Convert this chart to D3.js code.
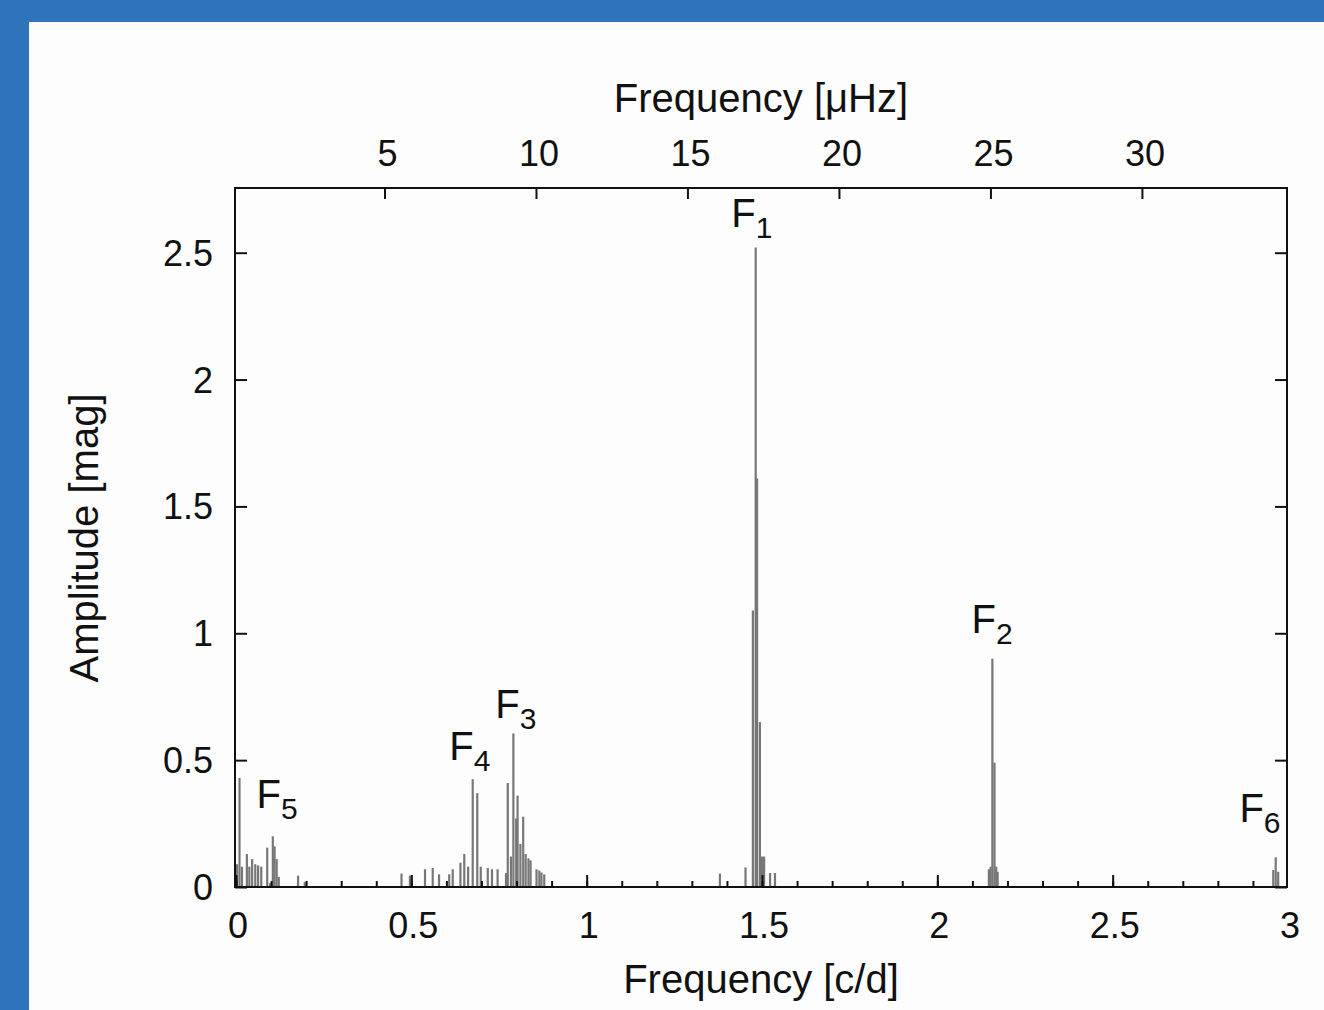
<!DOCTYPE html>
<html>
<head>
<meta charset="utf-8">
<script src="https://cdn.jsdelivr.net/npm/d3@7"></script>
<style>
  body { margin: 0; background: #2f73ba; }
  svg { display: block; font-family: "Liberation Sans", Arial, Helvetica, sans-serif; }
</style>
</head>
<body>
<svg width="1324" height="1010"></svg>
<script>
// spectrum lines: frequency [c/d] and amplitude [mag]
const freqs = [
  0.003, 0.010, 0.017, 0.031, 0.038, 0.046, 0.055, 0.063, 0.072, 0.089, 0.097, 0.105, 0.110, 0.116, 0.122, 0.177, 0.196,
  0.472, 0.496, 0.539, 0.561, 0.579, 0.608, 0.618, 0.640, 0.651, 0.662, 0.675, 0.688, 0.698, 0.718, 0.730, 0.746,
  0.770, 0.775, 0.784, 0.791, 0.799, 0.803, 0.811, 0.819, 0.826, 0.834, 0.840, 0.857, 0.865, 0.871, 0.879,
  1.380, 1.453, 1.474, 1.482, 1.486, 1.494, 1.500, 1.506, 1.523, 1.537,
  2.147, 2.152, 2.157, 2.163, 2.168, 2.172,
  2.958, 2.965, 2.972
];
const amps = [
  0.09, 0.43, 0.08, 0.13, 0.08, 0.11, 0.09, 0.085, 0.08, 0.155, 0.015, 0.20, 0.16, 0.11, 0.04, 0.045, 0.02,
  0.053, 0.045, 0.07, 0.075, 0.05, 0.05, 0.07, 0.096, 0.13, 0.08, 0.425, 0.37, 0.08, 0.075, 0.07, 0.07,
  0.055, 0.41, 0.12, 0.605, 0.27, 0.36, 0.17, 0.277, 0.13, 0.113, 0.105, 0.07, 0.065, 0.057, 0.05,
  0.053, 0.077, 1.09, 2.52, 1.61, 0.65, 0.12, 0.12, 0.055, 0.055,
  0.07, 0.08, 0.90, 0.49, 0.08, 0.06,
  0.067, 0.117, 0.06
];

// peak labels (text position in data units)
const labelNames = ["1", "2", "3", "4", "5", "6"];
const labelFreqs = [1.471, 2.156, 0.798, 0.667, 0.117, 2.92];
const labelAmps  = [2.602, 1.0, 0.666, 0.50, 0.311, 0.256];

const bottomTicks = [0, 0.5, 1, 1.5, 2, 2.5, 3];
const topTicks = [5, 10, 15, 20, 25, 30];
const yTicks = [0, 0.5, 1, 1.5, 2, 2.5];

const CD_TO_UHZ = 1e6 / 86400;

const svg = d3.select("svg");

// white panel
svg.append("rect").attr("x", 29).attr("y", 22).attr("width", 1324 - 29).attr("height", 1010 - 22).attr("fill", "#fdfdfd");

const x = d3.scaleLinear().domain([0, 3]).range([236, 1288]);
const xTop = d3.scaleLinear().domain([0, 3 * CD_TO_UHZ]).range([233, 1285]);
const y = d3.scaleLinear().domain([0, 2.755]).range([887, 188]);

// lines
svg.append("g").selectAll("line")
  .data(freqs)
  .join("line")
  .attr("x1", (d) => x(d))
  .attr("x2", (d) => x(d))
  .attr("y1", y(0))
  .attr("y2", (d, i) => y(amps[i]))
  .attr("stroke", "#777")
  .attr("stroke-width", 2.2);

// axes (ticks inward, labels placed by hand)
svg.append("g").attr("transform", `translate(0,${y(0)})`)
  .call(d3.axisTop(x).tickValues(d3.range(0, 2.95, 0.1)).tickSize(6).tickFormat(""))
  .call((g) => g.select(".domain").remove());
svg.append("g").attr("transform", `translate(0,${y(0)})`)
  .call(d3.axisTop(x).tickValues(bottomTicks.slice(0, -1)).tickSize(12).tickFormat(""))
  .call((g) => g.select(".domain").remove());
svg.append("g").attr("transform", `translate(0,${y.range()[1]})`)
  .call(d3.axisBottom(xTop).tickValues(topTicks).tickSize(11).tickFormat(""))
  .call((g) => g.select(".domain").remove());
svg.append("g").attr("transform", `translate(${x(0) - 1},0)`)
  .call(d3.axisRight(y).tickValues(yTicks).tickSize(12).tickFormat(""))
  .call((g) => g.select(".domain").remove());
svg.append("g").attr("transform", `translate(${x(3) - 1},0)`)
  .call(d3.axisLeft(y).tickValues(yTicks).tickSize(12).tickFormat(""))
  .call((g) => g.select(".domain").remove());
svg.selectAll(".tick line").attr("stroke", "#111").attr("stroke-width", 2);

// frame
svg.append("rect")
  .attr("x", x(0) - 1).attr("y", y.range()[1])
  .attr("width", x(3) - x(0)).attr("height", y(0) - y.range()[1])
  .attr("fill", "none").attr("stroke", "#111").attr("stroke-width", 2);

// tick labels
const lab = svg.append("g").attr("fill", "#111").attr("font-size", 36);
lab.selectAll(".xb").data(bottomTicks).join("text")
  .attr("x", (d) => x(d) + 2).attr("y", 938).attr("text-anchor", "middle")
  .text((d) => d3.format("")(d));
lab.selectAll(".xt").data(topTicks).join("text")
  .attr("x", (d) => xTop(d) + 3).attr("y", 166).attr("text-anchor", "middle")
  .text((d) => d);
lab.selectAll(".yl").data(yTicks).join("text")
  .attr("x", 213).attr("y", (d) => y(d) + 13).attr("text-anchor", "end")
  .text((d) => d);

// axis titles
const titles = svg.append("g").attr("fill", "#111").attr("font-size", 40).attr("text-anchor", "middle");
titles.append("text").attr("x", 761).attr("y", 993).text("Frequency [c/d]");
titles.append("text").attr("x", 761).attr("y", 112).text("Frequency [\u03bcHz]");
titles.append("text").attr("transform", "translate(98,538) rotate(-90)").text("Amplitude [mag]");

// peak labels
const peaks = svg.append("g").attr("fill", "#111").attr("text-anchor", "middle");
labelNames.forEach((n, i) => {
  const t = peaks.append("text").attr("x", x(labelFreqs[i])).attr("y", y(labelAmps[i]));
  t.append("tspan").attr("font-size", 40).text("F");
  t.append("tspan").attr("font-size", 30).attr("dy", 11).text(n);
});
</script>
</body>
</html>
